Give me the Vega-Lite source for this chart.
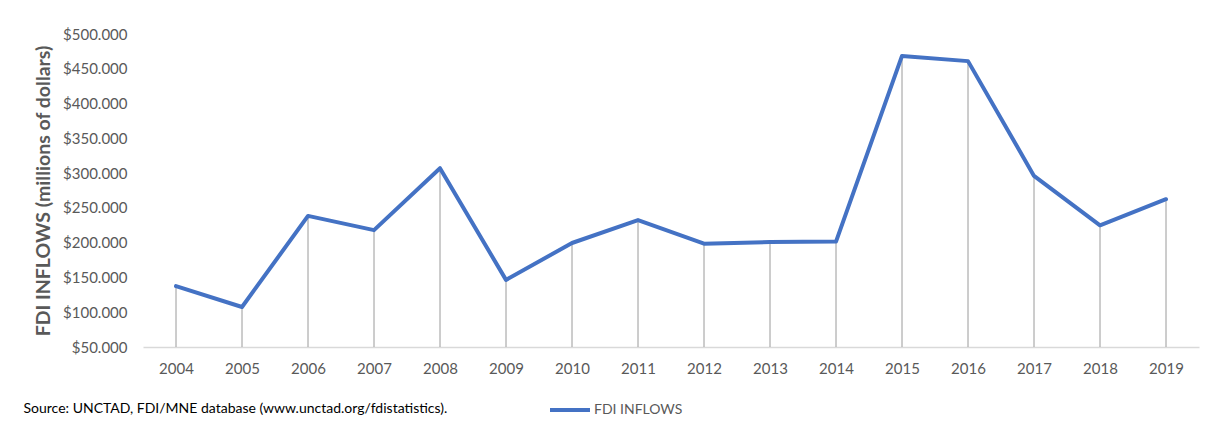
{
  "$schema": "https://vega.github.io/schema/vega-lite/v6.json",
  "autosize": "none",
  "width": 1056,
  "height": 313,
  "padding": {"left": 143, "top": 34, "right": 13, "bottom": 81},
  "background": "white",
  "config": {
    "view": {"stroke": null},
    "font": "Lato",
    "axis": {"labelColor": "#595959", "labelFont": "Lato", "titleColor": "#595959"}
  },
  "data": {
    "values": [
      {"year": "2004", "inflows": 137500},
      {"year": "2005", "inflows": 107500},
      {"year": "2006", "inflows": 238500},
      {"year": "2007", "inflows": 218000},
      {"year": "2008", "inflows": 307000},
      {"year": "2009", "inflows": 146500},
      {"year": "2010", "inflows": 199500},
      {"year": "2011", "inflows": 232500},
      {"year": "2012", "inflows": 198500},
      {"year": "2013", "inflows": 201000},
      {"year": "2014", "inflows": 201500},
      {"year": "2015", "inflows": 468500},
      {"year": "2016", "inflows": 461000},
      {"year": "2017", "inflows": 296000},
      {"year": "2018", "inflows": 225000},
      {"year": "2019", "inflows": 262500}
    ]
  },
  "encoding": {
    "x": {
      "field": "year",
      "type": "ordinal",
      "scale": {"type": "point", "padding": 0.5},
      "axis": {
        "title": "Source: UNCTAD, FDI/MNE database (www.unctad.org/fdistatistics).",
        "titleAnchor": "start",
        "titleAlign": "left",
        "titleBaseline": "middle",
        "titleX": -120,
        "titleY": 61,
        "titleFontSize": 14,
        "titleFontWeight": "normal",
        "titleColor": "#000000",
        "labelAngle": 0,
        "labelFontSize": 15,
        "labelPadding": 14,
        "ticks": false,
        "domain": true,
        "domainColor": "#d9d9d9",
        "domainWidth": 1.5,
        "grid": false
      }
    },
    "y": {
      "field": "inflows",
      "type": "quantitative",
      "scale": {"domain": [50000, 500000], "nice": false, "zero": false},
      "axis": {
        "title": "FDI INFLOWS (millions of dollars)",
        "titleFontSize": 19.5,
        "titleFontWeight": "bold",
        "titleFont": "Lato",
        "titlePadding": 9,
        "values": [50000, 100000, 150000, 200000, 250000, 300000, 350000, 400000, 450000, 500000],
        "labelExpr": "'$' + replace(format(datum.value, ','), ',', '.')",
        "labelFontSize": 15,
        "labelPadding": 16,
        "ticks": false,
        "domain": false,
        "grid": false
      }
    }
  },
  "layer": [
    {
      "mark": {"type": "rule", "color": "#9a9a9a", "strokeWidth": 1},
      "encoding": {"y2": {"datum": 50000}}
    },
    {
      "mark": {"type": "line", "strokeWidth": 4, "strokeCap": "round", "strokeJoin": "round"},
      "encoding": {
        "color": {
          "datum": "FDI INFLOWS",
          "scale": {"range": ["#4472C4"]},
          "legend": {
            "title": null,
            "orient": "none",
            "legendX": 405,
            "legendY": 354,
            "symbolType": "stroke",
            "symbolSize": 1600,
            "symbolStrokeWidth": 4,
            "labelFontSize": 14,
            "labelColor": "#595959",
            "labelFont": "Lato",
            "labelOffset": 2
          }
        }
      }
    }
  ]
}
